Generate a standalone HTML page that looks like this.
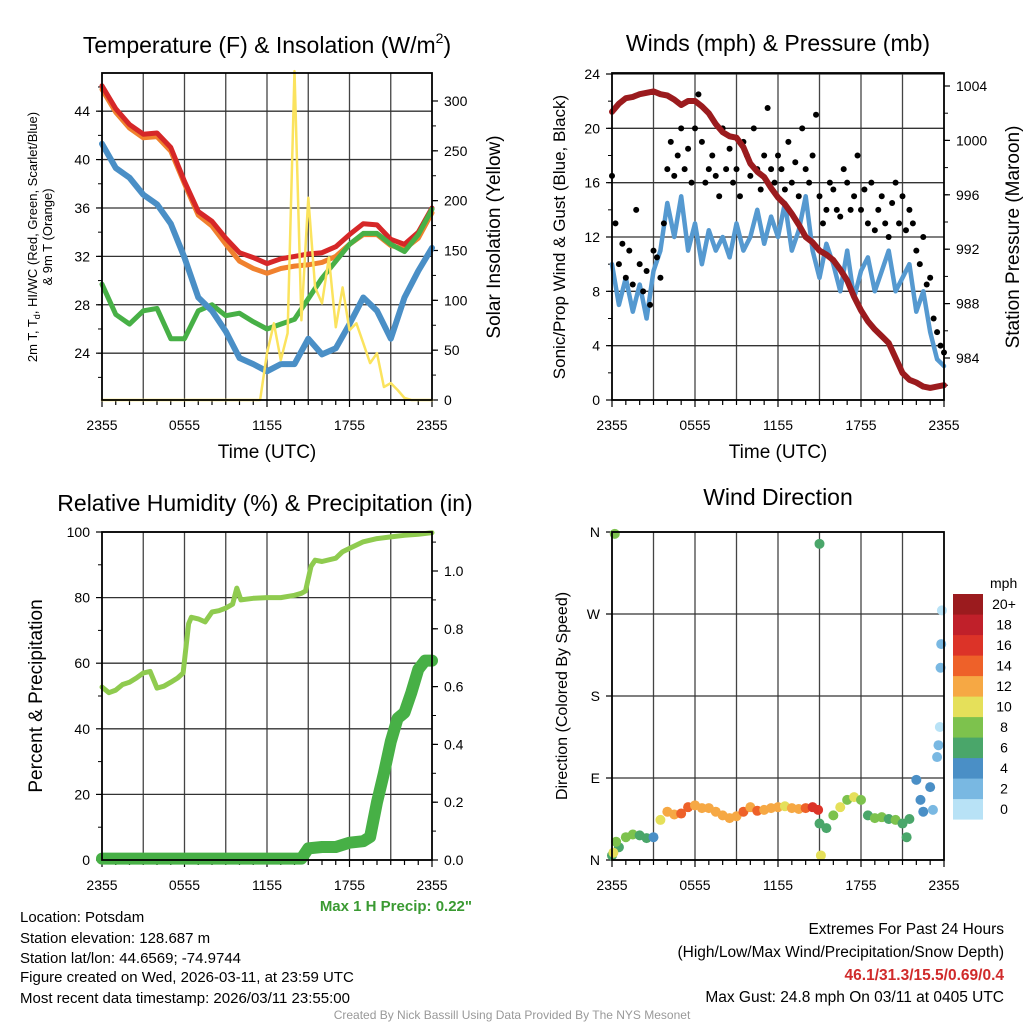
<!DOCTYPE html>
<html><head><meta charset="utf-8"><style>
html,body{margin:0;padding:0;background:#fff;}
svg{display:block;font-family:"Liberation Sans",Arial,sans-serif;}
</style></head><body>
<svg id="fig" width="1024" height="1024" viewBox="0 0 1024 1024" xmlns="http://www.w3.org/2000/svg">
<rect width="1024" height="1024" fill="#fff"/>
<g id="g"></g>
<g font-size="23" text-anchor="middle" fill="#000">
<text x="267" y="53">Temperature (F) &amp; Insolation (W/m<tspan font-size="14" dy="-10">2</tspan><tspan dy="10">)</tspan></text>
<text x="778" y="51">Winds (mph) &amp; Pressure (mb)</text>
<text x="265" y="511">Relative Humidity (%) &amp; Precipitation (in)</text>
<text x="778" y="505">Wind Direction</text>
</g>
<g font-size="19" text-anchor="middle">
<text x="267" y="458">Time (UTC)</text>
<text x="778" y="458">Time (UTC)</text>
<text transform="translate(37,237) rotate(-90)" font-size="13">2m T, T<tspan font-size="9" dy="3">d</tspan><tspan dy="-3">, HI/WC (Red, Green, Scarlet/Blue)</tspan></text>
<text transform="translate(52,237) rotate(-90)" font-size="13">&amp; 9m T (Orange)</text>
<text transform="translate(500,237) rotate(-90)">Solar Insolation (Yellow)</text>
<text transform="translate(565,237) rotate(-90)" font-size="17">Sonic/Prop Wind &amp; Gust (Blue, Black)</text>
<text transform="translate(1019,237) rotate(-90)">Station Pressure (Maroon)</text>
<text transform="translate(42,696) rotate(-90)">Percent &amp; Precipitation</text>
<text transform="translate(567,696) rotate(-90)" font-size="16">Direction (Colored By Speed)</text>
</g>
<text x="472" y="911" font-size="15" font-weight="bold" fill="#3a9a32" text-anchor="end">Max 1 H Precip: 0.22"</text>
<g font-size="15" fill="#000">
<text x="20" y="922">Location: Potsdam</text>
<text x="20" y="943">Station elevation: 128.687 m</text>
<text x="20" y="963">Station lat/lon: 44.6569; -74.9744</text>
<text x="20" y="982">Figure created on Wed, 2026-03-11, at 23:59 UTC</text>
<text x="20" y="1003">Most recent data timestamp: 2026/03/11 23:55:00</text>
</g>
<g font-size="15.5" text-anchor="end" fill="#000">
<text x="1004" y="934">Extremes For Past 24 Hours</text>
<text x="1004" y="957">(High/Low/Max Wind/Precipitation/Snow Depth)</text>
<text x="1004" y="980" fill="#d02b2b" font-weight="bold">46.1/31.3/15.5/0.69/0.4</text>
<text x="1004" y="1002">Max Gust: 24.8 mph On 03/11 at 0405 UTC</text>
</g>
<text x="512" y="1019" font-size="12" fill="#999" text-anchor="middle">Created By Nick Bassill Using Data Provided By The NYS Mesonet</text>
</svg>
<script>
// ---- data ----
const hourly = [0,1,2,3,4,5,6,7,8,9,10,11,12,13,14,15,16,17,18,19,20,21,22,23,24];
const halfHours = [0,0.5,1,1.5,2,2.5,3,3.5,4,4.5,5,5.5,6,6.5,7,7.5,8,8.5,9,9.5,10,10.5,11,11.5,12,12.5,13,13.5,14,14.5,15,15.5,16,16.5,17,17.5,18,18.5,19,19.5,20,20.5,21,21.5,22,22.5,23,23.5,24];
const tempRed = [46.1,44.2,42.9,42.1,42.2,41.0,38.2,35.7,34.9,33.5,32.3,31.9,31.4,31.8,32.0,32.2,32.3,32.8,33.8,34.7,34.6,33.4,33.0,34.0,36.0];
const tempOrange = [45.8,43.9,42.6,41.8,41.9,40.7,38.0,35.4,34.5,33.0,31.6,31.0,30.6,31.0,31.2,31.3,31.5,32.0,33.0,33.8,33.8,32.9,32.6,33.5,35.6];
const tempGreen = [29.7,27.2,26.4,27.5,27.7,25.2,25.2,27.5,28.0,27.1,27.3,26.6,26.0,26.4,26.8,28.5,30.2,31.6,33.0,33.9,33.9,33.0,32.4,33.8,35.9];
const dewBlue = [41.3,39.3,38.5,37.1,36.3,34.7,31.9,28.6,27.5,25.8,23.6,23.1,22.5,23.1,23.1,25.2,23.9,24.4,26.4,28.6,27.5,25.2,28.6,30.8,32.7];
const solar = [0,0,0,0,0,0,0,0,0,0,0,0,0,0,0,0,0,0,0,0,0,0,0,0,47,77,40,67,330,80,203,113,97,143,73,113,70,77,57,37,47,13,17,10,2,0,0,0,0];
const windSonic = [10,7,9,6.5,8.5,6,9.5,11,14.5,12,15,11,13,10,12.5,11,12,10.5,13,11,12,14,11.5,13.5,12,14.5,11,12.5,15,11,9,11.5,10,8,11,7.5,9.5,10.5,8,9.5,11,8,9,10,6.5,8,5,3,2.5];
const gusts = [16.5,13,10,11.5,9,11,8.5,14,10,8,9.5,7,
 11,10.5,9,13,17,19,16.5,18,20,17,18.5,16,
 20,22.5,19,16,17,18,16.5,15,20,17,18.5,16,
 17,15,19,18,16.5,20,17,15.5,18,21.5,17,16,
 18,17,15.5,19,16,17.5,15,20,17,16,18,21,
 15,13,14,16,15.5,14,13.5,17,16,14,15,18,
 14,15.5,13,16,12.5,14,15,13,12,14.5,16,13,
 15,12.5,14,13,11,10,12,8.5,9,6,5,4,3.5];
const pressure = [1002.1,1002.7,1003.1,1003.2,1003.4,1003.5,1003.6,1003.4,1003.3,1003.0,1002.6,1002.9,1002.9,1002.5,1002.0,1001.2,1000.6,1000.3,1000.2,999.5,998.3,997.7,997.3,996.5,995.8,995.3,994.6,993.8,992.9,992.5,991.9,991.6,991.2,990.5,989.7,988.5,987.5,986.7,986.1,985.6,985.1,984.0,982.9,982.4,982.2,981.9,981.8,981.9,982.0];
const rhHours = [0,0.5,1,1.5,2,2.5,3,3.5,4,4.5,5,5.5,5.9,6.3,6.5,7,7.5,8,8.5,9,9.5,9.8,10.1,11,12,13,14,14.5,14.8,15.2,15.5,16,17,17.5,18,19,20,21,22,23,24];
const rhValues = [52.7,51,51.8,53.5,54.2,55.5,57,57.5,52.4,53,54.2,55.5,57,72,74,73.5,72.6,75.6,76,76.8,78,82.9,79.3,79.8,80,80,80.7,81.3,82,89.5,91.4,91,92,94,95,97,98,98.5,99,99.3,99.8];
const precipHours = [0,14.5,15,16,17,18,19,19.5,20,20.5,21,21.5,22,22.5,23,23.5,24];
const precipValues = [0.005,0.005,0.04,0.045,0.045,0.06,0.065,0.08,0.2,0.30,0.41,0.49,0.51,0.58,0.66,0.69,0.69];
const dirHours = [0,0.5,1,1.5,2,2.5,3,3.5,4,4.5,5,5.5,6,6.5,7,7.5,8,8.5,9,9.5,10,10.5,11,11.5,12,12.5,13,13.5,14,14.5,15,15.5,16,16.5,17,17.5,18,18.5,19,19.5,20,20.5,21,21.5,22,22.5,23,23.5,0.1,0.3,14.9,15.1,21.3,22.3,23.2,23.6,23.7,23.75,23.8,23.85,0.2,15.0];
const dirDeg = [5,14,25,28,27,24,25,44,53,50,51,58,60,57,57,53,49,46,48,53,58,54,55,57,58,59,57,56,57,58,40,35,49,58,66,69,66,49,46,47,45,44,40,45,88,53,80,113,8,20,55,5,25,66,55,126,146,211,237,274,358,347];
const dirSpeed = [6,7,8,9,6,7,5,10,13,12,15,14,13,12,13,13,12,12,13,14,12,15,13,12,12,11,12,13,14,17,7,6,9,10,9,10,8,7,8,9,7,8,7,6,4,4,4,3,10,8,17,10,6,5,2,2,1,3,2,1,9,7];
const speedColors = ['#b8e2f6','#79b8e2','#4a8fc6','#4aa66a','#7dc24d','#e5e05a','#f6a844','#ee6129','#dc3328','#c0202a','#9b1b1e'];
const speedLabels = ['0','2','4','6','8','10','12','14','16','18','20+'];
const timeTicks = ['2355','0555','1155','1755','2355'];

// ---- helpers ----
const NS='http://www.w3.org/2000/svg';
const G=document.getElementById('g');
function mk(tag,attrs,parent){const e=document.createElementNS(NS,tag);for(const k in attrs)e.setAttribute(k,attrs[k]);(parent||G).appendChild(e);return e;}
function panel(p){
  const g=mk('g',{});
  
  
  p.g=g;
  const X=h=>p.x0+h*(p.x1-p.x0)/24;
  p.X=X;
  for(let h=3;h<24;h+=3){
    const l=mk('line',{x1:X(h),x2:X(h),y1:p.y0,y2:p.y1,stroke:'#444','stroke-width':1.3},g);
    
    
  }
  p.leftTicks.forEach((v,i)=>{
    const y=p.YL(v);
    if(p.hgrid){const l=mk('line',{x1:p.x0,x2:p.x1,y1:y,y2:y,stroke:'#333','stroke-width':1.3},g);
      
      }
    mk('line',{x1:p.x0-6,x2:p.x0,y1:y,y2:y,stroke:'#000','stroke-width':1.2},g);
    const t=mk('text',{x:p.x0-12,y:y+5,'font-size':14,'text-anchor':'end'},g);
    t.textContent=p.leftLabels?p.leftLabels[i]:v;
    
    
  });
  if(p.leftMinor)p.leftMinor.forEach(v=>mk('line',{x1:p.x0-4,x2:p.x0,y1:p.YL(v),y2:p.YL(v),stroke:'#000','stroke-width':1},g));
  if(p.rightTicks){
    p.rightTicks.forEach((v,i)=>{
      const y=p.YR(v);
      mk('line',{x1:p.x1,x2:p.x1+6,y1:y,y2:y,stroke:'#000','stroke-width':1.2},g);
      const t=mk('text',{x:p.x1+12,y:y+5,'font-size':14},g);
      t.textContent=p.rightLabels?p.rightLabels[i]:v;
      
      
    });
    if(p.rightMinor)p.rightMinor.forEach(v=>{const y=p.YR(v);if(y>=p.y0&&y<=p.y1)mk('line',{x1:p.x1,x2:p.x1+4,y1:y,y2:y,stroke:'#000','stroke-width':1},g);});
  }
  for(let h=0;h<=24;h++){
    const maj=h%6==0;
    mk('line',{x1:X(h),x2:X(h),y1:p.y1,y2:p.y1+(maj?7:5),stroke:'#000','stroke-width':1.2},g);
  }
  timeTicks.forEach((s,i)=>{
    const t=mk('text',{x:X(i*6),y:p.y1+30,'font-size':14,'text-anchor':'middle'},g);
    t.textContent=s;
    
    
  });
  p.plot=mk('g',{},g);
  const fr=mk('rect',{x:p.x0,y:p.y0,width:p.x1-p.x0,height:p.y1-p.y0,fill:'none',stroke:'#000','stroke-width':1.8},g);
  
  
  return p;
}
function line(p,xs,ys,yf,color,w,name){
  const d=xs.map((h,i)=>(i?'L':'M')+p.X(h).toFixed(1)+' '+yf(ys[i]).toFixed(1)).join('');
  const e=mk('path',{d:d,fill:'none',stroke:color,'stroke-width':w,'stroke-linejoin':'round','stroke-linecap':'round'},p.plot);
  
  
  return e;
}
const range=(a,b,s)=>{const r=[];for(let v=a;v<=b+1e-9;v+=s)r.push(+v.toFixed(3));return r;};

const p1=panel({name:'temperature-panel',x0:102,x1:432,y0:73,y1:400,
  YL:t=>400-(t-20.13)*12.1, YR:s=>400-s*0.9967, hgrid:true,
  leftTicks:[24,28,32,36,40,44], leftMinor:range(22,46,2),
  rightTicks:[0,50,100,150,200,250,300], rightMinor:range(0,320,25)});
line(p1,hourly,tempOrange,p1.YL,'#f0812e',5,'temp-9m-orange');
line(p1,hourly,tempRed,p1.YL,'#d62728',5,'temp-2m-red');
line(p1,hourly,tempGreen,p1.YL,'#47b046',5,'windchill-green');
line(p1,hourly,dewBlue,p1.YL,'#4a8fc6',6,'dewpoint-blue');
line(p1,halfHours,solar,p1.YR,'#fbe35e',2.5,'solar-yellow');

const p2=panel({name:'wind-panel',x0:612,x1:944,y0:73,y1:400,
  YL:w=>400-w*326/24, YR:pr=>358-(pr-984)*13.6, hgrid:true,
  leftTicks:[0,4,8,12,16,20,24], leftMinor:range(0,24,2),
  rightTicks:[984,988,992,996,1000,1004], rightMinor:range(982,1004,2)});
line(p2,halfHours,windSonic,p2.YL,'#5599d0',4.5,'sonic-wind-blue');
gusts.forEach((v,i)=>{
  const c=mk('circle',{cx:p2.X(i*0.25),cy:p2.YL(v),r:3,fill:'#000'},p2.plot);
  
  
});
line(p2,halfHours,pressure,p2.YR,'#9b1b1e',6,'pressure-maroon');

const p3=panel({name:'rh-panel',x0:102,x1:432,y0:532,y1:860,
  YL:r=>860-r*3.28, YR:pr=>860-pr*289, hgrid:true,
  leftTicks:[0,20,40,60,80,100], leftMinor:range(10,90,20),
  rightTicks:[0,0.2,0.4,0.6,0.8,1.0], rightLabels:['0.0','0.2','0.4','0.6','0.8','1.0'], rightMinor:range(0,1.1,0.1)});
line(p3,rhHours,rhValues,p3.YL,'#8fcb4f',5,'rh-line');
line(p3,precipHours,precipValues,p3.YR,'#47b046',12,'precip-line');

const p4=panel({name:'direction-panel',x0:612,x1:944,y0:532,y1:860,
  YL:d=>860-d*328/360, hgrid:true,
  leftTicks:[0,90,180,270,360], leftLabels:['N','E','S','W','N']});
dirHours.forEach((h,i)=>{
  const c=mk('circle',{cx:p4.X(h),cy:p4.YL(dirDeg[i]),r:5,fill:speedColors[Math.min(10,Math.floor(dirSpeed[i]/2))]},p4.plot);
  
  
});
const lg=mk('g',{});


const lt=mk('text',{x:990,y:588,'font-size':14},lg);
lt.textContent='mph';


speedColors.forEach((c,i)=>{
  const y=594+(10-i)*20.5;
  const r=mk('rect',{x:953,y:y,width:30,height:20.6,fill:c},lg);
  
  
  const t=mk('text',{x:1004,y:y+15,'font-size':14,'text-anchor':'middle'},lg);
  t.textContent=speedLabels[i];
  
  
});
</script>
</body></html>
